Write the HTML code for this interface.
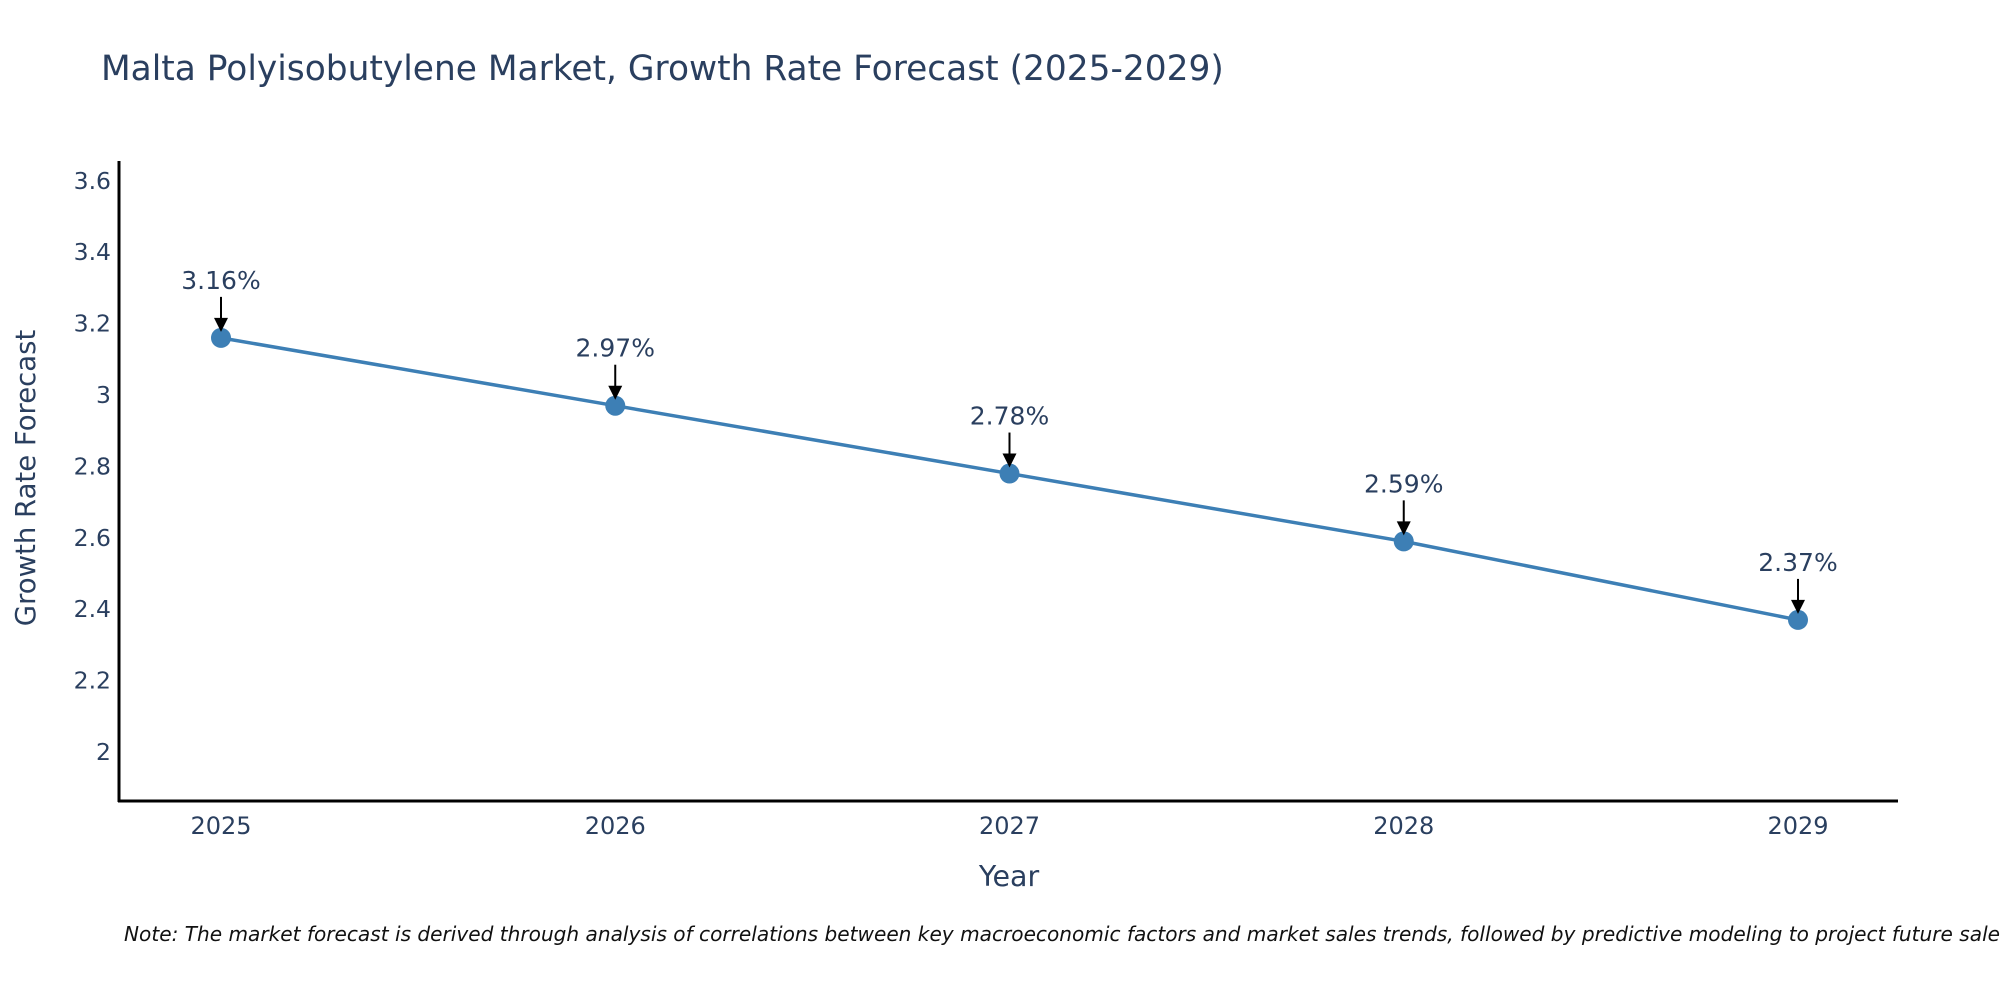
<!DOCTYPE html>
<html><head><meta charset="utf-8"><style>
body{margin:0;background:#fff;}
svg text{font-family:"DejaVu Sans","Liberation Sans",sans-serif;fill:#2a3f5f;}
</style></head><body>
<svg id="chart" width="2000" height="1000" xmlns="http://www.w3.org/2000/svg">
<text x="101" y="80" font-size="34.4">Malta Polyisobutylene Market, Growth Rate Forecast (2025-2029)</text>
<g id="yticks"></g><g id="xticks"></g>
<line x1="119" y1="161" x2="119" y2="802" stroke="#000" stroke-width="3"/>
<line x1="118" y1="801" x2="1898" y2="801" stroke="#000" stroke-width="3"/>
<g id="series"></g>
<text transform="translate(35,478) rotate(-90)" text-anchor="middle" font-size="27.5">Growth Rate Forecast</text>
<text x="1009" y="886" text-anchor="middle" font-size="28.5">Year</text>
<text x="124" y="941" font-size="20.1" font-style="italic" style="fill:#111">Note: The market forecast is derived through analysis of correlations between key macroeconomic factors and market sales trends, followed by predictive modeling to project future sales</text>
</svg>
<script>
const years = ["2025","2026","2027","2028","2029"];
const growth = [3.16, 2.97, 2.78, 2.59, 2.37];
const yTicks = [2, 2.2, 2.4, 2.6, 2.8, 3, 3.2, 3.4, 3.6];
const yTickLabels = ["2","2.2","2.4","2.6","2.8","3","3.2","3.4","3.6"];
const NS="http://www.w3.org/2000/svg";
function yScale(v){return 752-(v-2)/0.2*71.4;}
function xScale(i){return 221+i*(1798-221)/(years.length-1);}
function mk(tag,attrs,parent){const e=document.createElementNS(NS,tag);for(const k in attrs)e.setAttribute(k,attrs[k]);parent.appendChild(e);return e;}
const yg=document.getElementById('yticks');
yTicks.forEach((v,i)=>{const t=mk('text',{x:111,y:yScale(v)+8,'text-anchor':'end','font-size':23.5},yg);


t.textContent=yTickLabels[i];});
const xg=document.getElementById('xticks');
years.forEach((y,i)=>{const t=mk('text',{x:xScale(i),y:834,'text-anchor':'middle','font-size':24},xg);


t.textContent=y;});
const sg=document.getElementById('series');
const pts=growth.map((v,i)=>xScale(i)+','+yScale(v)).join(' ');
const pl=mk('polyline',{points:pts,fill:'none',stroke:'#3d7fb5','stroke-width':3.5},sg);


growth.forEach((v,i)=>{const cx=xScale(i),cy=yScale(v);
const c=mk('circle',{cx:cx,cy:cy,r:10,fill:'#3d7fb5'},sg);


const ln=mk('line',{x1:cx,y1:cy-41,x2:cx,y2:cy-18,stroke:'#000','stroke-width':2},sg);


const ah=mk('polygon',{points:(cx-7)+','+(cy-20)+' '+(cx+7)+','+(cy-20)+' '+cx+','+(cy-6),fill:'#000'},sg);


const t=mk('text',{x:cx,y:cy-49,'text-anchor':'middle','font-size':25},sg);


t.textContent=v.toFixed(2)+'%';});
</script>
</body></html>
